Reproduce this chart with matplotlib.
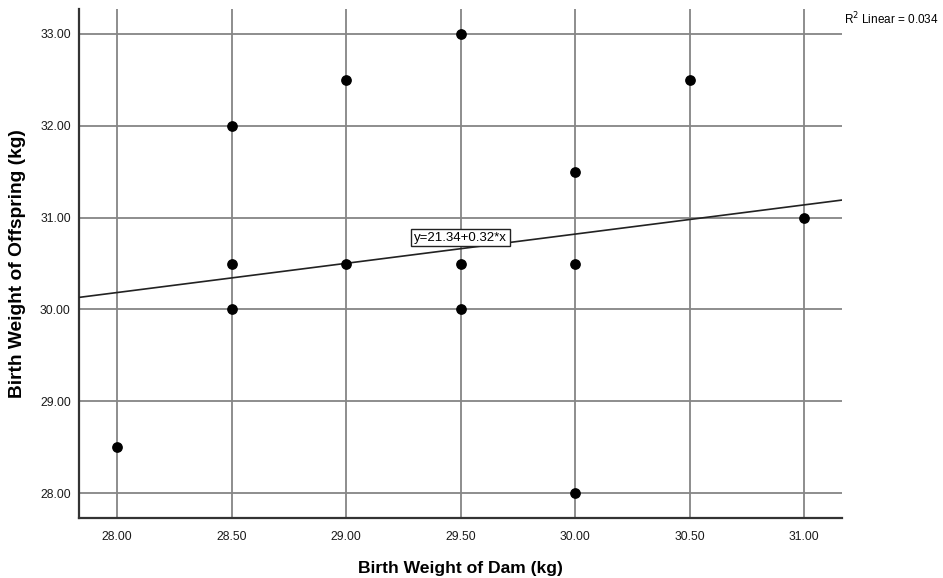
import matplotlib.pyplot as plt

# birth weights
dam_kg = [28.0, 28.5, 28.5, 28.5, 29.0, 29.0, 29.5, 29.5, 29.5, 30.0, 30.0, 30.0, 30.5, 31.0]
offspring_kg = [28.5, 32.0, 30.5, 30.0, 32.5, 30.5, 33.0, 30.5, 30.0, 31.5, 30.5, 28.0, 32.5, 31.0]

x_ticks = [28.0, 28.5, 29.0, 29.5, 30.0, 30.5, 31.0]
y_ticks = [28.0, 29.0, 30.0, 31.0, 32.0, 33.0]

# fit line as drawn in the picture
line_intercept = 21.28
line_slope = 0.318
eq_label = 'y=21.34+0.32*x'
r2_label = 'R$^2$ Linear = 0.034'

plt.rcParams['font.family'] = ['Liberation Sans', 'DejaVu Sans']

fig = plt.figure(figsize=(9.43, 5.78), dpi=100)
ax = fig.add_axes([0.0838, 0.1038, 0.8092, 0.8806])

xlim = (27.834, 31.166)
ylim = (27.73, 33.27)
ax.set_xlim(xlim)
ax.set_ylim(ylim)

ax.set_xticks(x_ticks)
ax.set_yticks(y_ticks)
ax.set_xticklabels(['%.2f' % v for v in x_ticks])
ax.set_yticklabels(['%.2f' % v for v in y_ticks])
ax.tick_params(length=0, labelsize=8.7, colors='#1a1a1a', pad=6)
ax.tick_params(axis='x', pad=9)

ax.grid(True, color='#858585', linewidth=1.3)
ax.set_axisbelow(True)

for side in ['top', 'right']:
    ax.spines[side].set_visible(False)
for side in ['left', 'bottom']:
    ax.spines[side].set_color('#333333')
    ax.spines[side].set_linewidth(1.6)

# regression line across the full x range
ax.plot(list(xlim), [line_intercept + line_slope * v for v in xlim],
        color='#222222', linewidth=1.2, zorder=3)

ax.scatter(dam_kg, offspring_kg, s=45, color='black', zorder=4)

ax.text(29.5, 30.78, eq_label, fontsize=9.5, ha='center', va='center', zorder=5,
        bbox=dict(boxstyle='square,pad=0.2', facecolor='white', edgecolor='#222222', linewidth=1))

fig.text(0.995, 0.967, r2_label, fontsize=8.5, ha='right', va='center')

ax.set_xlabel('Birth Weight of Dam (kg)', fontsize=12.6, fontweight='bold', labelpad=13)
ax.set_ylabel('Birth Weight of Offspring (kg)', fontsize=13.8, fontweight='bold', labelpad=10)

plt.savefig('out.png', dpi=100)
